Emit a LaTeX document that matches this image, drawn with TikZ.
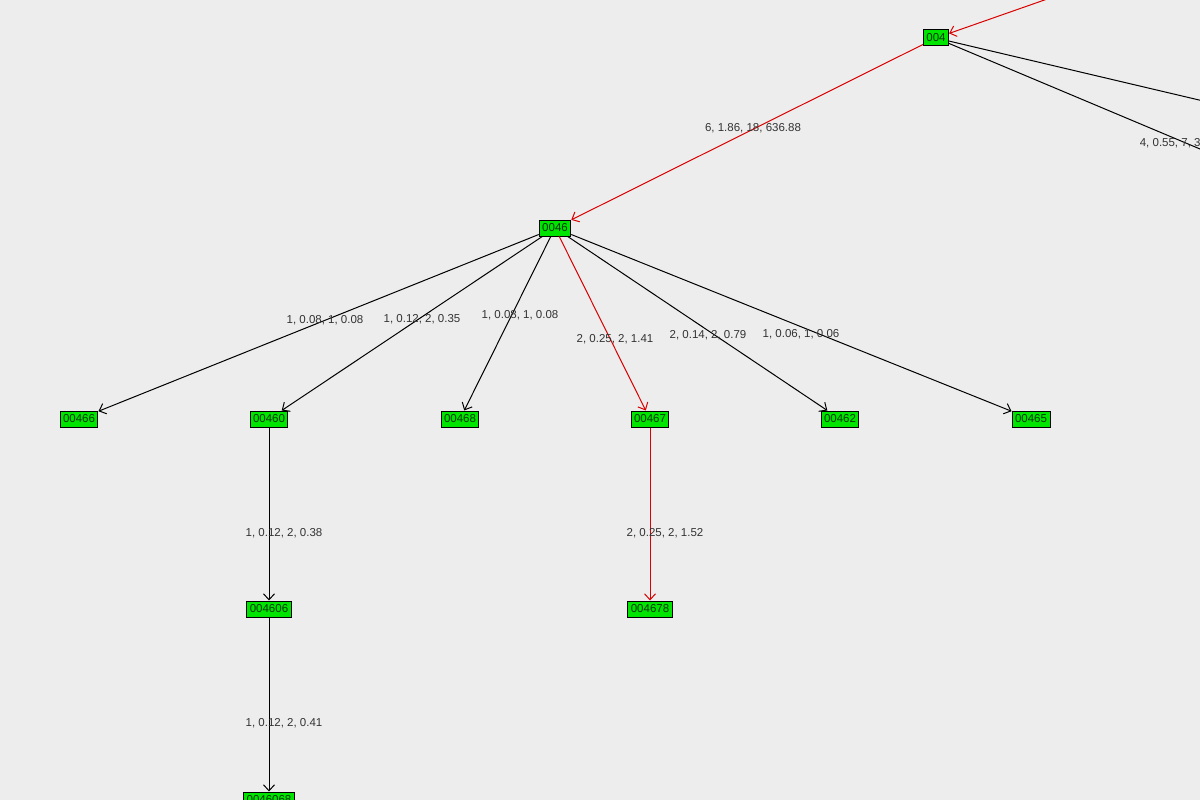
\documentclass[tikz,border=0pt]{standalone}
\usepackage{fontspec}
\setmainfont{Liberation Sans}
\usetikzlibrary{arrows.meta}
\begin{document}
\begin{tikzpicture}[x=1pt,y=-1pt,line width=1pt,
  nd/.style={draw=black,fill=green!90!black,inner xsep=3pt,inner ysep=1.5pt,minimum height=16pt,font=\fontsize{11.5}{12}\selectfont,text=black!80!green},
  lb/.style={font=\fontsize{11.5}{12}\selectfont,text=black!80},
  ed/.style={draw=black,-{Straight Barb[length=6pt,width=11pt]}},
  re/.style={draw=red!85!black,-{Straight Barb[length=6pt,width=11pt]}}]
\useasboundingbox (0,0) rectangle (1200,800);
\fill[black!7] (0,0) rectangle (1200,800);
\clip (0,0) rectangle (1200,800);
\node[nd] (n004) at (936,38) {004};
\node[nd] (n0046) at (555,228) {0046};
\node[nd] (n00466) at (79,419) {00466};
\node[nd] (n00460) at (269,419) {00460};
\node[nd] (n00468) at (460,419) {00468};
\node[nd] (n00467) at (650,419) {00467};
\node[nd] (n00462) at (840,419) {00462};
\node[nd] (n00465) at (1031,419) {00465};
\node[nd] (n004606) at (269,609) {004606};
\node[nd] (n004678) at (650,609) {004678};
\node[nd] (n0046068) at (269,800) {0046068};
\coordinate (src) at (1130,-30);
\coordinate (o1) at (1250,112);
\coordinate (o2) at (1250,170);
\draw[re] (src) -- (n004);
\draw (n004) -- (o1);
\draw (n004) -- (o2);
\draw[re] (n004) -- (n0046);
\draw[ed] (n0046) -- (n00466);
\draw[ed] (n0046) -- (n00460);
\draw[ed] (n0046) -- (n00468);
\draw[re] (n0046) -- (n00467);
\draw[ed] (n0046) -- (n00462);
\draw[ed] (n0046) -- (n00465);
\draw[ed] (n00460) -- (n004606);
\draw[re] (n00467) -- (n004678);
\draw[ed] (n004606) -- (n0046068);
\node[lb] at (753,128) {6, 1.86, 18, 636.88};
\node[lb,anchor=west] at (1136,143) {4, 0.55, 7, 3};
\node[lb] at (325,320) {1, 0.08, 1, 0.08};
\node[lb] at (422,319) {1, 0.12, 2, 0.35};
\node[lb] at (520,315) {1, 0.08, 1, 0.08};
\node[lb] at (615,339) {2, 0.25, 2, 1.41};
\node[lb] at (708,335) {2, 0.14, 2, 0.79};
\node[lb] at (801,334) {1, 0.06, 1, 0.06};
\node[lb] at (284,533) {1, 0.12, 2, 0.38};
\node[lb] at (665,533) {2, 0.25, 2, 1.52};
\node[lb] at (284,723) {1, 0.12, 2, 0.41};
\end{tikzpicture}
\end{document}
